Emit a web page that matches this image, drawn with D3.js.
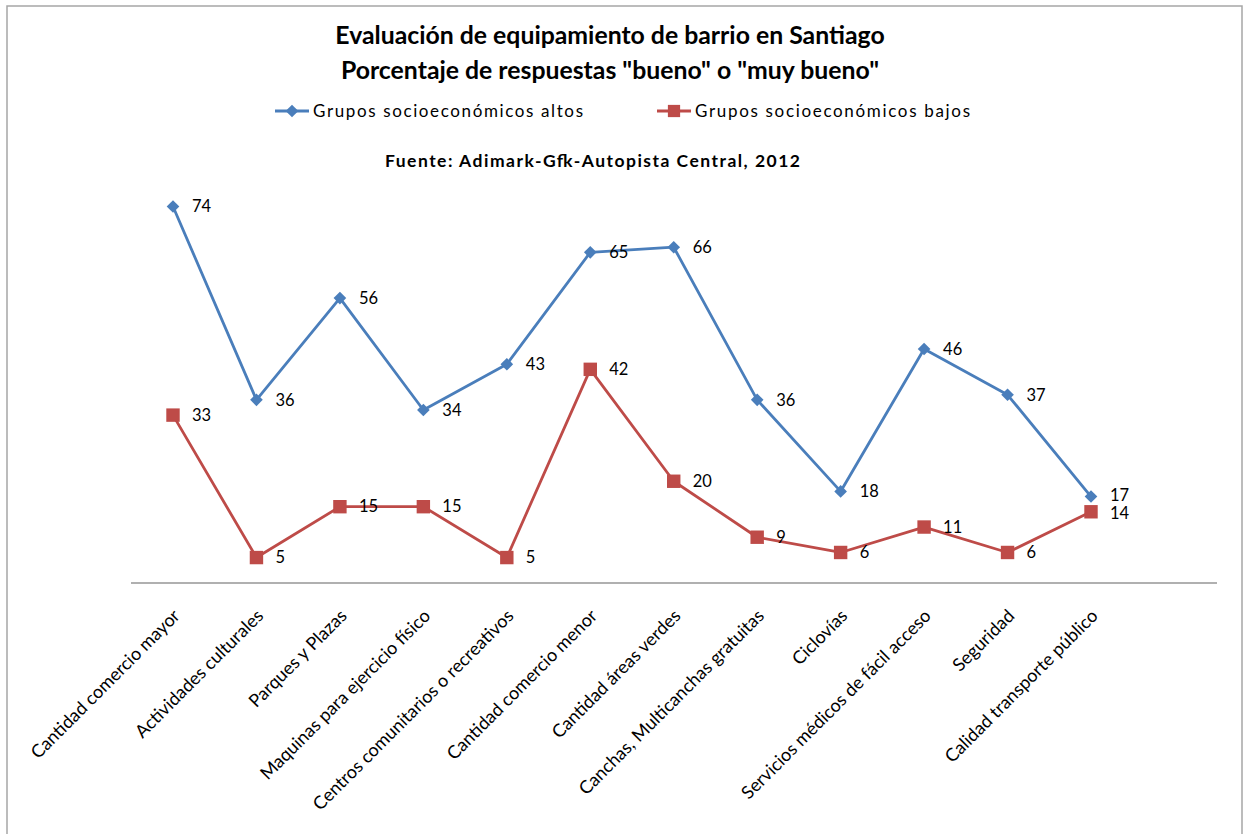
<!DOCTYPE html>
<html>
<head>
<meta charset="utf-8">
<script src="https://cdn.jsdelivr.net/npm/d3@7"></script>
<style>
  html, body { margin: 0; padding: 0; background: #fff; }
  svg { display: block; }
  text { font-family: Lato, "Open Sans", sans-serif; fill: #000; }
</style>
</head>
<body>
<svg id="chart" width="1248" height="834"></svg>
<script>
const categories = [
  "Cantidad comercio mayor", "Actividades culturales", "Parques y Plazas",
  "Maquinas para ejercicio físico", "Centros comunitarios o recreativos",
  "Cantidad comercio menor", "Cantidad áreas verdes", "Canchas, Multicanchas gratuitas",
  "Ciclovías", "Servicios médicos de fácil acceso", "Seguridad", "Calidad transporte público"
];
const altos = [74, 36, 56, 34, 43, 65, 66, 36, 18, 46, 37, 17];
const bajos = [33, 5, 15, 15, 5, 42, 20, 9, 6, 11, 6, 14];
const seriesNames = ["Grupos socioeconómicos altos", "Grupos socioeconómicos bajos"];
const titleLines = ["Evaluación de equipamiento de barrio en Santiago", "Porcentaje de respuestas \"bueno\" o \"muy bueno\""];
const sourceText = "Fuente: Adimark-Gfk-Autopista Central, 2012";

const blue = "#4a7ebb", red = "#be4b48";
const svg = d3.select("#chart");

// outer border
svg.append("rect").attr("x", 7).attr("y", 6).attr("width", 1235).attr("height", 840)
  .attr("fill", "none").attr("stroke", "#a6a6a6").attr("stroke-width", 1.5);

// title
svg.selectAll("text.title").data(titleLines).enter().append("text")
  .attr("class", "title")
  .attr("x", 610).attr("y", (d, i) => 44 + i * 35)
  .attr("text-anchor", "middle")
  .style("font-size", "24.8px").style("font-weight", "bold")
  .text(d => d);

// scales
const x = d3.scalePoint().domain(categories).range([173, 1091]);
const y = d3.scaleLinear().domain([0, 80]).range([583, 176]);

// x axis line
svg.append("line").attr("x1", 131).attr("x2", 1217).attr("y1", y(0)).attr("y2", y(0))
  .attr("stroke", "#969696").attr("stroke-width", 1.5);

// x labels
svg.selectAll("text.xl").data(categories).enter().append("text")
  .attr("class", "xl")
  .attr("transform", d => `translate(${x(d) + 8},${y(0) + 34}) rotate(-45)`)
  .attr("text-anchor", "end")
  .style("font-size", "18px")
  .text(d => d);

const line = d3.line().x((d, i) => x(categories[i])).y(d => y(d));

// label offset to keep close labels of the two series from colliding
function labelShift(i, isTop) {
  const gap = Math.abs(y(altos[i]) - y(bajos[i]));
  const need = 18;
  if (gap >= need) return 0;
  const s = (need - gap) / 2;
  return isTop ? -s : s;
}

function drawSeries(vals, color, shape, size, rot, isTop) {
  svg.append("path").datum(vals).attr("d", line)
    .attr("fill", "none").attr("stroke", color).attr("stroke-width", 2.8)
    .attr("stroke-linejoin", "round");
  svg.append("g").selectAll("path").data(vals).enter().append("path")
    .attr("transform", (d, i) => `translate(${x(categories[i])},${y(d)}) rotate(${rot})`)
    .attr("d", d3.symbol().type(shape).size(size))
    .attr("fill", color);
  svg.append("g").selectAll("text").data(vals).enter().append("text")
    .attr("x", (d, i) => x(categories[i]) + 19)
    .attr("y", (d, i) => y(d) + labelShift(i, isTop))
    .attr("dy", "0.35em")
    .style("font-size", "16.5px")
    .text(d => d);
}
drawSeries(altos, blue, d3.symbolSquare, 80, 45, true);
drawSeries(bajos, red, d3.symbolSquare, 180, 0, false);

// legend
const legendItems = [
  {name: seriesNames[0], color: blue, size: 80, rot: 45, x: 275, w: 270},
  {name: seriesNames[1], color: red, size: 150, rot: 0, x: 657, w: 275}
];
const lg = svg.append("g");
legendItems.forEach(it => {
  lg.append("line").attr("x1", it.x).attr("x2", it.x + 34).attr("y1", 111).attr("y2", 111)
    .attr("stroke", it.color).attr("stroke-width", 2.8);
  lg.append("path").attr("transform", `translate(${it.x + 17},111) rotate(${it.rot})`)
    .attr("d", d3.symbol().type(d3.symbolSquare).size(it.size)).attr("fill", it.color);
  lg.append("text").attr("x", it.x + 38).attr("y", 111).attr("dy", "0.35em")
    .attr("textLength", it.w).attr("lengthAdjust", "spacing")
    .style("font-size", "17px").text(it.name);
});

// source
svg.append("text").attr("x", 385).attr("y", 161).attr("dy", "0.35em")
  .attr("textLength", 415).attr("lengthAdjust", "spacing")
  .style("font-size", "17.5px").style("font-weight", "bold")
  .text(sourceText);
</script>
</body>
</html>
